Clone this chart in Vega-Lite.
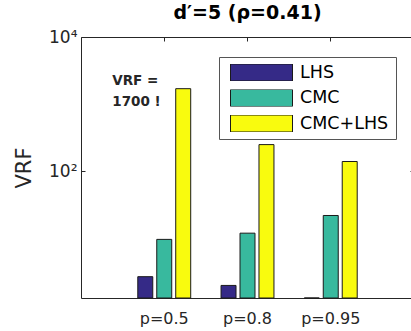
{
  "$schema": "https://vega.github.io/schema/vega-lite/v6.json",
  "width": 333,
  "height": 261,
  "autosize": {"type": "none"},
  "padding": {"left": 81, "top": 37, "right": 0, "bottom": 33},
  "background": "white",
  "config": {
    "font": "DejaVu Sans",
    "view": {"stroke": "#262626", "strokeWidth": 1},
    "axis": {"grid": false, "domain": false, "labelColor": "#262626", "tickColor": "#262626", "titleColor": "#262626", "titleFontWeight": "normal"}
  },
  "title": {"text": "d′=5 (ρ=0.41)", "fontSize": 19, "fontWeight": "bold", "color": "#000000", "offset": 5, "font": "DejaVu Sans"},
  "datasets": {
    "bars": [
      {"p": "p=0.5", "method": "LHS", "vrf": 2.7},
      {"p": "p=0.5", "method": "CMC", "vrf": 9.7},
      {"p": "p=0.5", "method": "CMC+LHS", "vrf": 1700},
      {"p": "p=0.8", "method": "LHS", "vrf": 2.0},
      {"p": "p=0.8", "method": "CMC", "vrf": 12},
      {"p": "p=0.8", "method": "CMC+LHS", "vrf": 250},
      {"p": "p=0.95", "method": "LHS", "vrf": 1.2},
      {"p": "p=0.95", "method": "CMC", "vrf": 22},
      {"p": "p=0.95", "method": "CMC+LHS", "vrf": 140}
    ],
    "notes": [
      {"p": "p=0.5", "vrf": 2230, "label": "VRF ="},
      {"p": "p=0.5", "vrf": 1087, "label": "1700 !"}
    ]
  },
  "layer": [
    {
      "data": {"name": "bars"},
      "mark": {"type": "bar", "stroke": "#1a1a1a", "strokeWidth": 1},
      "encoding": {
        "x": {
          "field": "p", "type": "nominal", "sort": ["p=0.5", "p=0.8", "p=0.95"],
          "scale": {"paddingInner": 0, "paddingOuter": 0.5},
          "axis": {"orient": "bottom", "title": null, "labelAngle": 0, "ticks": false, "labelFontSize": 16, "labelPadding": 12}
        },
        "xOffset": {
          "field": "method", "type": "nominal", "sort": ["LHS", "CMC", "CMC+LHS"],
          "scale": {"paddingInner": 0.21, "paddingOuter": 0.8}
        },
        "y": {
          "field": "vrf", "type": "quantitative",
          "scale": {"type": "log", "domain": [1.3, 10000], "nice": false, "clamp": true},
          "axis": {"orient": "left", "values": [100, 10000], "labelExpr": "datum.value == 100 ? '10²' : '10⁴'", "title": "VRF", "titleFontSize": 21, "titlePadding": 14, "labelFontSize": 17, "tickSize": -4, "labelPadding": 8}
        },
        "color": {
          "field": "method", "type": "nominal", "sort": ["LHS", "CMC", "CMC+LHS"],
          "scale": {"range": ["#352a87", "#38b99e", "#f9fb0e"]},
          "legend": {
            "orient": "none", "legendX": 138, "legendY": 20, "title": null,
            "symbolType": "M-1,-0.274H1V0.274H-1Z", "symbolSize": 3844,
            "symbolStrokeColor": "#1a1a1a", "symbolStrokeWidth": 1, "symbolOpacity": 1,
            "clipHeight": 17, "rowPadding": 7.5, "labelFontSize": 17.5, "labelOffset": 7,
            "symbolOffset": 4, "padding": 7, "strokeColor": "#555555", "fillColor": "white", "labelColor": "#000000"
          }
        }
      }
    },
    {
      "data": {"name": "notes"},
      "mark": {"type": "text", "fontWeight": "bold", "fontSize": 13.5, "align": "left", "baseline": "middle", "dx": -52, "color": "#262626"},
      "encoding": {
        "x": {"field": "p", "type": "nominal", "sort": ["p=0.5", "p=0.8", "p=0.95"], "axis": {"orient": "top", "labels": false, "title": null, "tickSize": -4}},
        "y": {"field": "vrf", "type": "quantitative", "axis": {"orient": "right", "labels": false, "title": null, "values": [100, 10000], "tickSize": -4}},
        "text": {"field": "label"}
      }
    }
  ],
  "resolve": {"axis": {"x": "independent", "y": "independent"}}
}
